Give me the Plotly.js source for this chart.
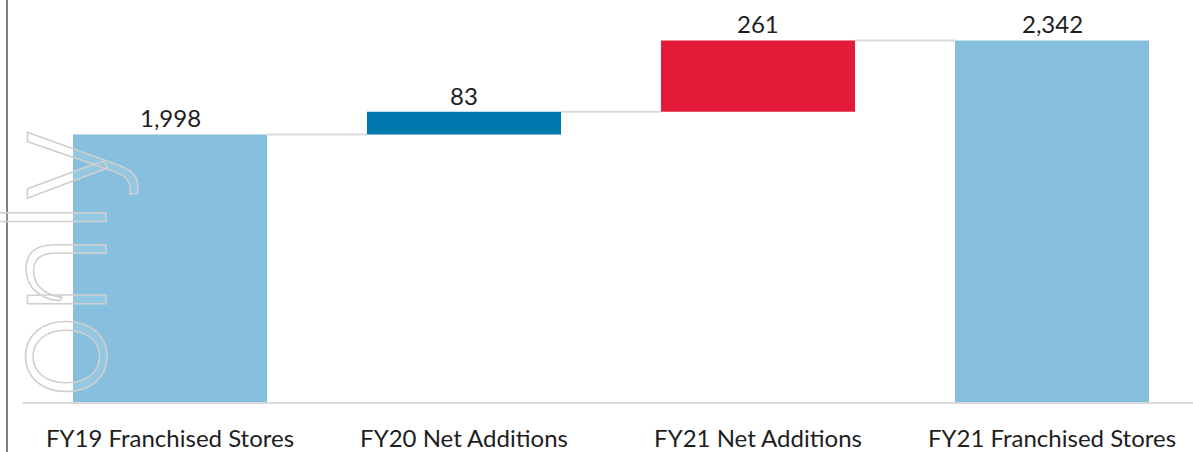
<!DOCTYPE html>
<html>
<head>
<meta charset="utf-8">
<script src="https://cdn.plot.ly/plotly-3.0.1.min.js"></script>
<style>
  html, body { margin: 0; padding: 0; background: #ffffff; }
  #chart { width: 1193px; height: 452px; }
</style>
</head>
<body>
<div id="chart"></div>
<script>
// ---- data ----
const categories = ['FY19 Franchised Stores', 'FY20 Net Additions', 'FY21 Net Additions', 'FY21 Franchised Stores'];
const values = [1998, 83, 261, 2342];
const measures = ['absolute', 'relative', 'relative', 'total'];
const valueLabels = ['1,998', '83', '261', '2,342'];
const watermarkText = 'only';

// ---- styles ----
const barColors = ['#86c0de', '#0077ad', '#e31a38', '#86c0de'];
const connectorColor = '#d9d9d9';
const textColor = '#1e1e1e';
const fontFamily = 'Lato, "Open Sans", sans-serif';
const barWidth = 0.66;

// waterfall bases / tops from data
const xs = categories.map((c, i) => i);
const bases = [], tops = [], heights = [];
let running = 0;
values.forEach((v, i) => {
  let b, t;
  if (measures[i] === 'absolute') { b = 0; t = v; running = v; }
  else if (measures[i] === 'relative') { b = running; t = running + v; running = t; }
  else { b = 0; t = running; }
  bases.push(b); tops.push(t); heights.push(t - b);
});

const traces = [{
  type: 'bar',
  x: xs,
  y: heights,
  base: bases,
  width: barWidth,
  marker: { color: barColors, line: { width: 0 } },
  hoverinfo: 'none',
  showlegend: false
}];

// connectors
for (let i = 0; i < xs.length - 1; i++) {
  const level = (measures[i + 1] === 'total') ? tops[i] : bases[i + 1];
  traces.push({
    type: 'scatter', mode: 'lines',
    x: [xs[i] + barWidth / 2, xs[i + 1] - barWidth / 2],
    y: [level, level],
    line: { color: connectorColor, width: 2 },
    hoverinfo: 'none', showlegend: false
  });
}

const annotations = xs.map((x, i) => ({
  x: x, y: tops[i], xref: 'x', yref: 'y',
  text: valueLabels[i], showarrow: false,
  xanchor: 'center', yanchor: 'bottom', yshift: 0,
  font: { family: fontFamily, size: 24, color: textColor }
}));

const W = 1193, H = 452, ML = 23, MR = 0, MT = 0, MB = 50;
const PW = W - ML - MR, PH = H - MT - MB;

annotations.push({
  xref: 'paper', yref: 'paper',
  x: (55 - ML) / PW, y: 1 - (264 - MT) / PH,
  xanchor: 'center', yanchor: 'middle',
  text: watermarkText, showarrow: false, textangle: -90,
  font: { family: 'Roboto, sans-serif', size: 148, weight: 300, color: 'rgba(255,255,255,0.35)' }
});

const layout = {
  width: W, height: H,
  margin: { l: ML, r: MR, t: MT, b: MB, pad: 0 },
  paper_bgcolor: '#ffffff', plot_bgcolor: '#ffffff',
  showlegend: false,
  xaxis: {
    range: [-0.5, -0.5 + PW / 294],
    tickvals: xs, ticktext: categories,
    showgrid: false, zeroline: false,
    showline: true, linecolor: '#d9d9d9', linewidth: 2,
    ticks: '', ticklabelstandoff: 14,
    tickfont: { family: fontFamily, size: 24, color: textColor },
    fixedrange: true
  },
  yaxis: {
    range: [1019, 2490],
    visible: false, showgrid: false, zeroline: false, fixedrange: true
  },
  shapes: [{
    type: 'line', xref: 'paper', yref: 'paper',
    x0: (7 - ML) / PW, x1: (7 - ML) / PW,
    y0: -(MB) / PH, y1: 1 + MT / PH,
    line: { color: '#7f7f7f', width: 2 }
  }],
  annotations: annotations
};

Plotly.newPlot('chart', traces, layout, { displayModeBar: false, staticPlot: true }).then(() => {
  document.querySelectorAll('.annotation-text').forEach(el => {
    if (el.textContent === watermarkText) {
      el.style.fill = 'rgba(255,255,255,0.35)';
      el.style.stroke = '#cfcfcf';
      el.style.strokeWidth = '1.5px';
    }
  });
});
</script>
</body>
</html>
